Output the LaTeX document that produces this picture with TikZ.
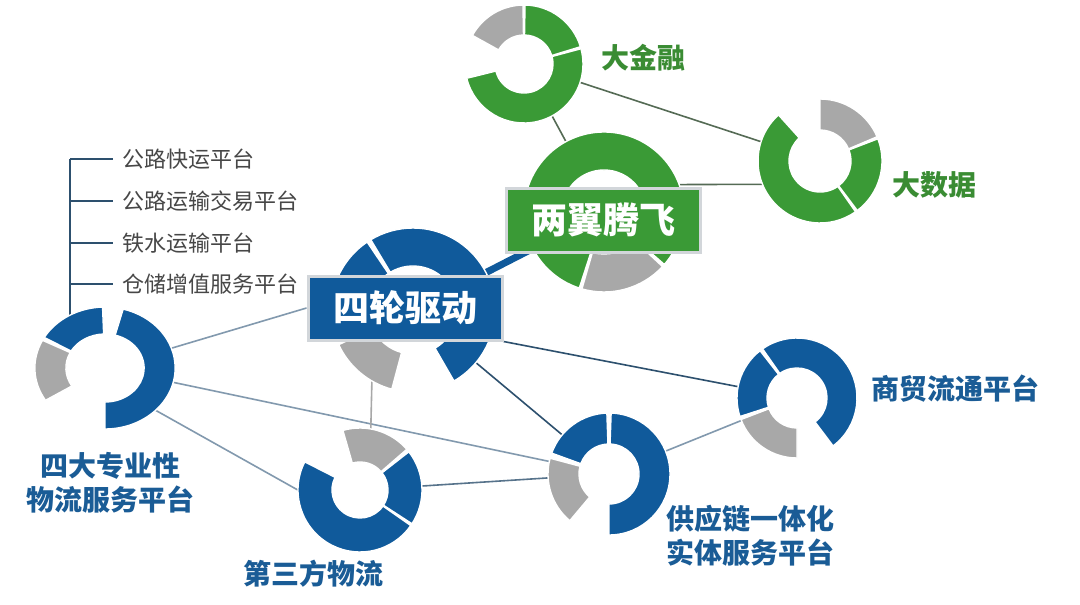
\documentclass[tikz,border=0pt]{standalone}
\usepackage{fontspec}
\setmainfont{Noto Sans CJK SC}
\usetikzlibrary{positioning, calc}

\definecolor{ringgreen}{HTML}{3A9A36}
\definecolor{ringblue}{HTML}{105A9B}
\definecolor{ringgray}{HTML}{A8A8A8}
\definecolor{txtblue}{HTML}{1A5C96}
\definecolor{txtgreen}{HTML}{3A8C33}
\definecolor{linedark}{HTML}{2D506E}
\definecolor{linelight}{HTML}{8299AE}
\definecolor{linegreen}{HTML}{556B55}
\definecolor{boxedge}{HTML}{D2D6DA}

\tikzset{
    hub/.style={circle, inner sep=0pt, minimum size=#1},
    seg/.style={draw=white, line width=1.4pt},
    biglabel/.style={font=\fontsize{28}{34}\selectfont\bfseries, align=center, inner sep=0pt},
    listlabel/.style={font=\fontsize{22}{26}\selectfont, text=black!72, anchor=west, inner xsep=9pt, inner ysep=0pt},
    titlebox/.style={draw=boxedge, line width=3pt, text=white, font=\fontsize{36}{40}\selectfont\bfseries,
        minimum width=194pt, minimum height=64pt},
    conn/.style={line width=1.6pt}
}

% ring piece: centre, from, to, inner radius, outer radius, colour
\newcommand{\ringseg}[6]{%
    \fill[#6, seg] ($(#1)+({-1*(#2)}:#5)$) arc[start angle={-1*(#2)}, end angle={-1*(#3)}, radius=#5]
        -- ($(#1)+({-1*(#3)}:#4)$) arc[start angle={-1*(#3)}, end angle={-1*(#2)}, radius=#4] -- cycle;}

\begin{document}
\begin{tikzpicture}[x=1pt, y=-1pt]
    \useasboundingbox (0,0) rectangle (1080,605);
    \fill[white] (0,0) rectangle (1080,605);

    % ring hubs
    \node[hub=118pt] (jr) at (524,64) {};
    \node[hub=124pt] (dsj) at (820,161) {};
    \node[hub=160pt] (lyr) at (604,212) {};
    \node[hub=164pt] (slqd) at (413,310) {};
    \node[hub=130pt] (sdpt) at (105,368) {};
    \node[hub=124pt] (dsf) at (360,490) {};
    \node[hub=122pt] (gyl) at (609,474) {};
    \node[hub=120pt] (smlt) at (797,398) {};

    % boxes (placed now so lines can use them)
    \node[titlebox, fill=ringblue] (slbox) at (405,308) {四轮驱动};

    % connectors
    \draw[conn, linegreen] (jr) -- (lyr);
    \draw[conn, linegreen] (jr) -- (dsj);
    \draw[conn, linegreen] (lyr.20) -- (dsj.202);
    \draw[ringblue, line width=7pt] (slqd) -- (lyr);
    \draw[conn, linelight] (sdpt) -- (slbox.west);
    \draw[conn, linelight] (sdpt) -- (gyl);
    \draw[conn, linelight] (sdpt.-40) -- (dsf.west);
    \draw[conn, ringgray] (slqd.-120) -- (dsf.80);
    \draw[conn, linedark] (slqd) -- (gyl);
    \draw[conn, linedark] (slbox.south east) -- (smlt);
    \draw[conn, linedark!80] (dsf) -- (gyl);
    \draw[conn, linelight] (gyl) -- (smlt);

    % list of platforms
    \coordinate (t1) at (70,159);
    \coordinate (t2) at (70,201);
    \coordinate (t3) at (70,243);
    \coordinate (t4) at (70,284);
    \coordinate (t5) at (70,318);
    \node[listlabel] (lst1) at (113,159) {公路快运平台};
    \node[listlabel] (lst2) at (113,201) {公路运输交易平台};
    \node[listlabel] (lst3) at (113,243) {铁水运输平台};
    \node[listlabel] (lst4) at (113,284) {仓储增值服务平台};
    \draw[linedark, line width=2pt] (t1) -- (t5);
    \foreach \i in {1,...,4}
        \draw[linedark, line width=2pt] (t\i) -- (lst\i.west);

    % rings
    \ringseg{jr}{91}{151}{29}{59}{ringgray}
    \ringseg{jr}{17}{89}{29}{59}{ringgreen}
    \ringseg{jr}{-166}{15}{29}{59}{ringgreen}

    \ringseg{dsj}{23}{90}{31}{62}{ringgray}
    \ringseg{dsj}{-53}{21}{31}{62}{ringgreen}
    \ringseg{dsj}{132}{305}{31}{62}{ringgreen}

    \ringseg{lyr}{-106}{-43}{42}{80}{ringgray}
    \ringseg{lyr}{-41}{252}{42}{80}{ringgreen}

    \ringseg{slqd}{124}{200}{44}{82}{ringblue}
    \ringseg{slqd}{205}{255}{44}{82}{ringgray}
    \ringseg{slqd}{-60}{121}{44}{82}{ringblue}

    \begin{scope}[shift={(105,368)}, xscale=1.15]
        \coordinate (c5) at (0,0);
        \ringseg{c5}{92}{150}{34}{61}{ringblue}
        \ringseg{c5}{153}{212}{34}{61}{ringgray}
        \ringseg{c5}{-90}{75}{34}{61}{ringblue}
    \end{scope}

    \ringseg{dsf}{41}{106}{28}{62}{ringgray}
    \ringseg{dsf}{-33}{38}{28}{62}{ringblue}
    \ringseg{dsf}{153}{325}{28}{62}{ringblue}

    \ringseg{gyl}{92}{160}{30}{61}{ringblue}
    \ringseg{gyl}{165}{230}{30}{61}{ringgray}
    \ringseg{gyl}{-90}{88}{30}{61}{ringblue}

    \ringseg{smlt}{128}{198}{30}{60}{ringblue}
    \ringseg{smlt}{201}{270}{30}{60}{ringgray}
    \ringseg{smlt}{-53}{125}{30}{60}{ringblue}

    % title boxes on top
    \node[titlebox, fill=ringgreen] (lybox) at (603,220) {两翼腾飞};
    \node[titlebox, fill=ringblue] at (slbox) {四轮驱动};

    % labels
    \node[biglabel, text=txtgreen] (jrlbl) at (643,58) {大金融};
    \node[biglabel, text=txtgreen] (dsjlbl) at (934,185) {大数据};
    \node[biglabel, text=txtblue] (sdptlbl) at (111,483) {四大专业性\\物流服务平台};
    \node[biglabel, text=txtblue] (dsflbl) at (313,574) {第三方物流};
    \node[biglabel, text=txtblue] (gyllbl) at (750,536) {供应链一体化\\实体服务平台};
    \node[biglabel, text=txtblue] (smltlbl) at (955,389) {商贸流通平台};
\end{tikzpicture}
\end{document}
